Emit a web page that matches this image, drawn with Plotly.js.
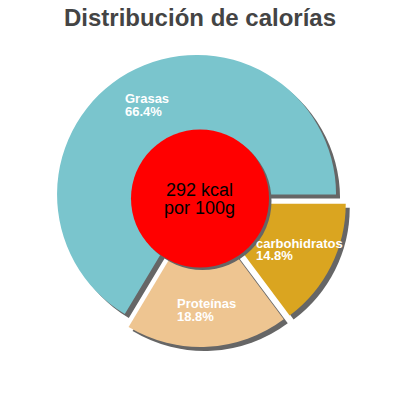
<!DOCTYPE html>
<html>
<head>
<meta charset="utf-8">
<script src="https://cdn.plot.ly/plotly-3.0.1.min.js"></script>
<style>
  html, body { margin: 0; padding: 0; background: #fff; }
  #chart { width: 400px; height: 400px; }
</style>
</head>
<body>
<div id="chart"></div>
<script>
// data
var labels = ['Grasas', 'Proteínas', 'carbohidratos'];
var shares = [66.4, 18.8, 14.8];
var colors = ['#7AC5CD', '#EEC591', '#DAA520'];
var kcal = 292;
var perUnit = 'por 100g';
var chartTitle = 'Distribución de calorías';

var W = 400, H = 400;
var font = 'Liberation Sans, Arial, sans-serif';

// pie box in pixels -> plotly domain
function dom(cx, cy, half) {
  return {
    x: [(cx - half) / W, (cx + half) / W],
    y: [1 - (cy + half) / H, 1 - (cy - half) / H]
  };
}

var canvas = document.createElement('canvas');
var ctx = canvas.getContext('2d');
function textWidth(s, size, bold) {
  ctx.font = (bold ? 'bold ' : '') + size + 'px "Liberation Sans", Arial, sans-serif';
  return ctx.measureText(s).width;
}

// first slice starts at 3 o'clock and runs counterclockwise;
// plotly's ccw mode anchors the first slice's clockwise edge at rotation
var total = shares.reduce(function(a, b) { return a + b; }, 0);
var rot = 90 - 360 * shares[0] / total + 360;

var pull = 0.05;
var R = 139.5;
var half = R * (1 + pull);
var cx = 200, cy = 200.5;
var shadowGray = '#666666';

var shadow = {
  type: 'pie', values: shares, labels: labels, sort: false,
  direction: 'counterclockwise', rotation: rot,
  pull: shares.map(function() { return pull; }),
  marker: { colors: shares.map(function() { return shadowGray; }), line: { width: 0 } },
  textinfo: 'none', hoverinfo: 'skip',
  domain: dom(cx + 4, cy + 4, half)
};

var main = {
  type: 'pie', values: shares, labels: labels, sort: false,
  direction: 'counterclockwise', rotation: rot,
  pull: shares.map(function() { return pull; }),
  marker: { colors: colors, line: { width: 0 } },
  textinfo: 'none',
  domain: dom(cx, cy, half)
};

var centerShadow = {
  type: 'pie', values: [kcal], labels: ['kcal'], sort: false,
  marker: { colors: [shadowGray], line: { width: 0 } },
  textinfo: 'none', hoverinfo: 'skip',
  domain: dom(202.5, 201, 69)
};

var center = {
  type: 'pie', values: [kcal], labels: ['kcal'], sort: false,
  marker: { colors: ['#FF0000'], line: { width: 0 } },
  textinfo: 'none',
  domain: dom(200, 198.5, 69)
};

// slice labels: two left-aligned lines, block centred on the slice bisector
var annotations = [];
var cum = 0;
var labelR = 109.5;
var lineGap = 12.5;
labels.forEach(function(lab, i) {
  var pct = (100 * shares[i] / total).toFixed(1) + '%';
  var mid = (cum + shares[i] / 2) / total * 2 * Math.PI;
  cum += shares[i];
  var bx = cx + labelR * Math.cos(mid);
  var by = cy - labelR * Math.sin(mid);
  var w = Math.max(textWidth(lab, 13, true), textWidth(pct, 13, true));
  var left = bx - w / 2;
  [lab, pct].forEach(function(s, k) {
    annotations.push({
      text: '<b>' + s + '</b>', showarrow: false,
      xref: 'paper', yref: 'paper',
      x: left / W, y: 1 - (by + (k === 0 ? -1 : 1) * lineGap / 2) / H,
      xanchor: 'left', yanchor: 'middle', borderpad: 0,
      font: { family: font, size: 13, color: '#ffffff' }
    });
  });
});

// centre text
[kcal + ' kcal', perUnit].forEach(function(s, k) {
  annotations.push({
    text: s, showarrow: false,
    xref: 'paper', yref: 'paper',
    x: 199 / W, y: 1 - (198.8 + (k === 0 ? -1 : 1) * 9) / H,
    xanchor: 'center', yanchor: 'middle', borderpad: 0,
    font: { family: font, size: 18, color: '#000000' }
  });
});

var layout = {
  width: W, height: H,
  margin: { l: 0, r: 0, t: 0, b: 0 },
  showlegend: false,
  paper_bgcolor: '#ffffff',
  annotations: annotations,
  title: {
    text: '<b>' + chartTitle + '</b>',
    font: { family: font, size: 24, color: '#444444' },
    x: 0.5, xanchor: 'center',
    y: 1 - 18 / H, yanchor: 'middle'
  }
};

Plotly.newPlot('chart', [shadow, main, centerShadow, center], layout, { staticPlot: true });
</script>
</body>
</html>
